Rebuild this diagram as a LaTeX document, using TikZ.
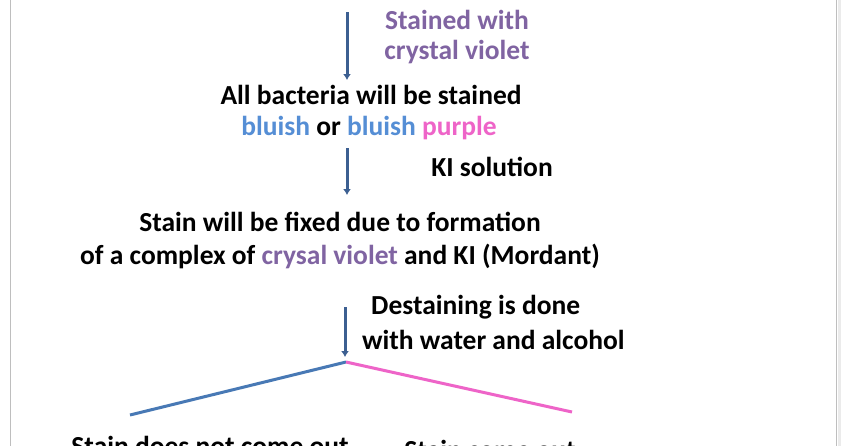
\documentclass[tikz,border=0pt]{standalone}
\usepackage{fontspec}
\setmainfont{Carlito}
\definecolor{arr}{RGB}{60,95,145}
\definecolor{vio}{RGB}{128,100,162}
\definecolor{blu}{RGB}{85,142,213}
\definecolor{pnk}{RGB}{238,100,200}
\definecolor{frm}{RGB}{190,190,190}
\tikzset{
 txt/.style={font=\bfseries\fontsize{27.5}{33}\selectfont, inner sep=0pt, align=center},
 flow/.style={arr, line width=3pt, -{Latex[length=6pt,width=8pt]}},
}
\usetikzlibrary{arrows.meta}
\begin{document}
\begin{tikzpicture}[x=1pt,y=-1pt]
\useasboundingbox (0,0) rectangle (847,445);
\clip (0,0) rectangle (847,445);
\fill[white] (0,0) rectangle (847,445);
\draw[frm, line width=1pt] (10,-5) -- (10,450);
\draw[frm, line width=1pt] (836,-5) -- (836,450);
\draw[black!8, line width=3pt] (839,-5) -- (839,450);
\coordinate (a1s) at (347,12); \coordinate (a1e) at (347,80);
\draw[flow] (a1s) -- (a1e);
\node[txt, text=vio] (s1) at (457,20) {Stained with};
\node[txt, text=vio] (s2) at (457,52) {crystal violet};
\node[txt] (b1) at (371,95) {All bacteria will be stained};
\node[txt] (b2) at (369,128) {\textcolor{blu}{bluish} or \textcolor{blu}{bluish} \textcolor{pnk}{purple}};
\coordinate (a2s) at (347,148); \coordinate (a2e) at (347,195);
\draw[flow] (a2s) -- (a2e);
\node[txt] (ki) at (492,167) {KI solution};
\node[txt] (f1) at (340,222) {Stain will be fixed due to formation};
\node[txt] (f2) at (340,256) {of a complex of \textcolor{vio}{crysal violet} and KI (Mordant)};
\coordinate (a3s) at (345,307); \coordinate (a3e) at (345,357);
\draw[flow] (a3s) -- (a3e);
\node[txt, anchor=west] (d1) at (371,307) {Destaining is done};
\node[txt, anchor=west] (d2) at (362,340) {with water and alcohol};
\coordinate (br) at (346,362);
\coordinate (lt) at (130,415);
\coordinate (rt) at (572,412);
\draw[blu!85!black, line width=3pt] (br) -- (lt);
\draw[pnk, line width=3pt] (br) -- (rt);
\node[txt] (g1) at (210,446) {Stain does not come out};
\node[txt] (g2) at (490,450) {Stain come out};
\end{tikzpicture}
\end{document}
